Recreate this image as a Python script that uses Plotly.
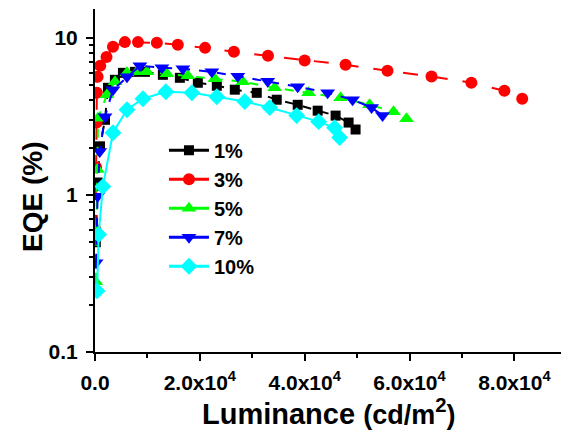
import plotly.graph_objects as go

# Luminance (cd/m^2) and EQE (%) for each doping concentration
lum_1 = [150, 500, 950, 1900, 2480, 3800, 5330, 7620, 9520, 12950, 16190, 19620,
         23240, 26670, 30860, 34670, 38670, 42480, 45900, 48380, 49710]
eqe_1 = [0.5, 1.2, 2.04, 3.01, 4.81, 5.41, 5.99, 6.08, 6.08, 5.82, 5.57, 5.18,
         4.96, 4.68, 4.47, 4.04, 3.75, 3.44, 3.20, 2.89, 2.61]

lum_3 = [100, 200, 300, 350, 500, 1000, 2200, 3430, 5700, 8200, 11800, 15800,
         21000, 26500, 33000, 40000, 47800, 55800, 64200, 71800, 78100, 81500]
eqe_3 = [0.6, 1.5, 2.89, 4.47, 5.66, 6.64, 7.57, 8.77, 9.4, 9.4, 9.3, 9.03,
         8.64, 8.15, 7.69, 7.17, 6.74, 6.17, 5.68, 5.18, 4.61, 4.10]

lum_5 = [150, 300, 450, 570, 2290, 3810, 6100, 8000, 9900, 13710, 17710, 22860,
         28190, 34290, 40760, 46860, 52380, 56950, 59430]
eqe_5 = [0.28, 0.6, 1.45, 3.08, 4.35, 5.26, 5.99, 6.08, 6.08, 5.91, 5.74, 5.49,
         5.26, 4.81, 4.47, 4.16, 3.75, 3.39, 3.06]

lum_7 = [200, 500, 900, 1900, 3430, 6100, 8570, 12760, 16760, 22290, 27240, 32950,
         38670, 44380, 49140, 52760, 54860]
eqe_7 = [0.37, 0.98, 1.89, 3.15, 4.68, 5.65, 6.64, 6.45, 6.36, 6.08, 5.70, 5.30,
         4.89, 4.47, 4.04, 3.60, 3.20]

lum_10 = [400, 700, 1500, 3430, 6100, 9140, 13520, 18480, 23240, 28570, 33330,
          38480, 42670, 45710, 46670]
eqe_10 = [0.245, 0.56, 1.13, 2.49, 3.49, 4.10, 4.54, 4.47, 4.22, 3.93, 3.60,
          3.20, 2.93, 2.68, 2.32]

x_tick_vals = [0, 20000, 40000, 60000, 80000]
x_tick_text = ["0.0", "2.0x10<sup>4</sup>", "4.0x10<sup>4</sup>",
               "6.0x10<sup>4</sup>", "8.0x10<sup>4</sup>"]
y_tick_vals = [0.1, 1, 10]
y_tick_text = ["0.1", "1", "10"]

FONT = "Liberation Sans"

series = [
    ("1%", lum_1, eqe_1, "#000000", "square", 10, "dash"),
    ("3%", lum_3, eqe_3, "#ff0000", "circle", 12, "longdash"),
    ("5%", lum_5, eqe_5, "#00ff00", "triangle-up", 13, "dash"),
    ("7%", lum_7, eqe_7, "#0000ff", "triangle-down", 13, "dash"),
    ("10%", lum_10, eqe_10, "#00ffff", "diamond", 13, "solid"),
]

fig = go.Figure()
for name, xs, ys, color, symbol, size, dash in series:
    # data curve (dashed), legend entry drawn separately with a solid line
    fig.add_trace(go.Scatter(
        x=xs, y=ys, mode="lines+markers", name=name, legendgroup=name,
        showlegend=False,
        line=dict(color=color, width=2, dash=dash),
        marker=dict(symbol=symbol, size=size, color=color, line=dict(width=0)),
    ))
    fig.add_trace(go.Scatter(
        x=[None], y=[None], mode="lines+markers", name=name, legendgroup=name,
        line=dict(color=color, width=3),
        marker=dict(symbol=symbol, size=size, color=color, line=dict(width=0)),
    ))

minor_y = [m * 10 ** e for e in (-1, 0) for m in range(2, 10)]

fig.update_layout(
    width=561, height=436,
    margin=dict(l=95, r=0, t=9, b=84),
    paper_bgcolor="white", plot_bgcolor="white",
    font=dict(family=FONT, size=20, color="black"),
    showlegend=True,
    legend=dict(
        x=0.148, y=0.645, xanchor="left", yanchor="top",
        bgcolor="rgba(0,0,0,0)", borderwidth=0,
        font=dict(family=FONT, size=20, weight="bold"),
        tracegroupgap=0, itemwidth=40,
    ),
    xaxis=dict(
        range=[0, 88900], tickmode="array", tickvals=x_tick_vals,
        ticktext=x_tick_text, ticks="outside", ticklen=7, tickwidth=2,
        tickcolor="black", showline=True, linewidth=2, linecolor="black",
        showgrid=False, zeroline=False, ticklabelstandoff=4,
        tickfont=dict(family=FONT, size=21, weight="bold"),
        minor=dict(dtick=10000, ticks="outside", ticklen=4, tickwidth=2,
                   tickcolor="black", showgrid=False),
    ),
    xaxis2=dict(
        range=[0, 88900], overlaying="x", side="top", dtick=9070, tick0=0,
        ticks="inside", ticklen=3, tickwidth=1, tickcolor="#555",
        showticklabels=False, showline=True, linewidth=2, linecolor="black",
        showgrid=False, zeroline=False,
    ),
    yaxis=dict(
        type="log", range=[-1, 1.184], tickmode="array", tickvals=y_tick_vals,
        ticktext=y_tick_text, ticks="outside", ticklen=7, tickwidth=2,
        tickcolor="black", showline=True, linewidth=2, linecolor="black",
        showgrid=False, zeroline=False, ticklabelstandoff=4,
        tickfont=dict(family=FONT, size=21, weight="bold"),
        minor=dict(tickmode="array", tickvals=minor_y, ticks="outside",
                   ticklen=4, tickwidth=2, tickcolor="black", showgrid=False),
    ),
    annotations=[
        dict(text="<b>EQE (%)</b>", x=32, y=197, xref="paper", yref="paper",
             showarrow=False, textangle=-90, font=dict(family=FONT, size=28)),
        dict(text="<b>Luminance <span style='font-size:27px'>(cd/m</span>"
                  "<sup>2</sup>"
                  "<span style='font-size:27px'>)</span></b>",
             x=328, y=412, xref="paper", yref="paper", showarrow=False,
             font=dict(family=FONT, size=29)),
    ],
)

# convert pixel positions of the axis titles to paper coordinates
plot_w, plot_h = 561 - 95, 436 - 9 - 84
for ann in fig.layout.annotations:
    px, py = ann.x, ann.y
    ann.x = (px - 95) / plot_w
    ann.y = (436 - 84 - py) / plot_h
    ann.xanchor = "center"
    ann.yanchor = "middle"

fig.write_html("out.html")
